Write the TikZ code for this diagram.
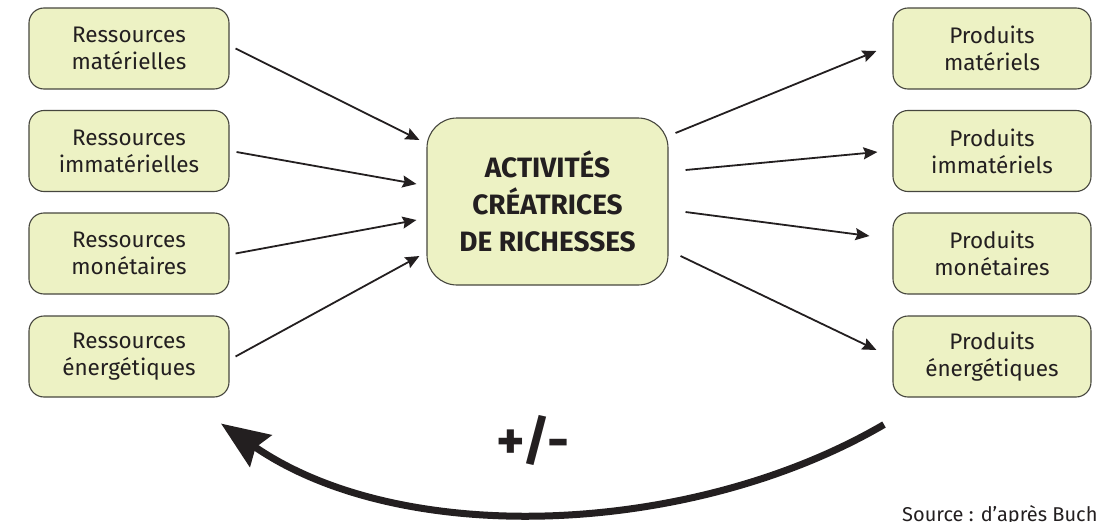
\documentclass[tikz,border=0pt]{standalone}
\usepackage{fontspec}
\setmainfont{Fira Sans}
\usetikzlibrary{arrows.meta,calc}
\definecolor{boxfill}{RGB}{237,242,196}
\definecolor{ink}{RGB}{35,31,32}
\definecolor{boxline}{RGB}{70,70,62}
\begin{document}
\begin{tikzpicture}[x=1pt,y=-1pt,
  smallbox/.style={draw=boxline, line width=1.1pt, fill=boxfill, rounded corners=15pt,
    minimum width=200pt, minimum height=81pt, inner sep=0pt, align=center, text=ink,
    font=\fontsize{22.5}{27}\selectfont},
  bigbox/.style={draw=boxline, line width=1.1pt, fill=boxfill, rounded corners=30pt,
    minimum width=241pt, minimum height=167pt, inner sep=0pt, align=center, text=ink,
    font=\bfseries\fontsize{28}{37}\selectfont},
  flow/.style={draw=ink, line width=1.8pt, -{Stealth[length=14pt,width=12pt,inset=2pt]}},
  loopback/.style={draw=ink, line width=7pt, -{Stealth[length=48pt,width=38pt,inset=6pt]}}
]
\useasboundingbox (0,0) rectangle (1096,522);

% left column
\node[smallbox] (L1) at (129,48.5) {Ressources\\matérielles};
\node[smallbox] (L2) at (129,151) {Ressources\\immatérielles};
\node[smallbox] (L3) at (129,253.5) {Ressources\\monétaires};
\node[smallbox] (L4) at (129,356.5) {Ressources\\énergétiques};

% centre
\node[bigbox] (C) at (547.5,201.5) {ACTIVITÉS\\CRÉATRICES\\DE RICHESSES};

% right column
\node[smallbox, minimum width=198pt] (R1) at (992,48.5) {Produits\\matériels};
\node[smallbox, minimum width=198pt] (R2) at (992,151) {Produits\\immatériels};
\node[smallbox, minimum width=198pt] (R3) at (992,253.5) {Produits\\monétaires};
\node[smallbox, minimum width=198pt] (R4) at (992,356.5) {Produits\\énergétiques};

% inputs
\draw[flow] ([xshift=6pt]L1.east) -- ([xshift=-7pt,yshift=61.5pt]C.west);
\draw[flow] ([xshift=7pt,yshift=-1pt]L2.east) -- ([xshift=-10pt,yshift=17.5pt]C.west);
\draw[flow] ([xshift=6pt]L3.east) -- ([xshift=-10pt,yshift=-18.5pt]C.west);
\draw[flow] ([xshift=6pt]L4.east) -- ([xshift=-7pt,yshift=-54.5pt]C.west);

% outputs
\draw[flow] ([xshift=7pt,yshift=68.5pt]C.east) -- ([xshift=-16pt,yshift=-2.5pt]R1.west);
\draw[flow] ([xshift=17pt,yshift=31.5pt]C.east) -- ([xshift=-15pt,yshift=-1pt]R2.west);
\draw[flow] ([xshift=17pt,yshift=-10.5pt]C.east) -- ([xshift=-23pt,yshift=17.5pt]R3.west);
\draw[flow] ([xshift=12pt,yshift=-54.5pt]C.east) -- ([xshift=-16pt,yshift=6.5pt]R4.west);

% feedback loop
\coordinate (ls) at ([xshift=-108pt,yshift=-27pt]R4.south);
\coordinate (le) at ([xshift=92pt,yshift=-26pt]L4.south);
\draw[loopback] (ls) .. controls (693,536) and (403,549) .. (le);
\node[font=\bfseries\fontsize{54}{54}\selectfont, text=ink] (pm) at (533,440) {+/-};

% source
\node[anchor=base west, inner sep=0pt, font=\fontsize{20}{20}\selectfont, text=ink] (src) at (902,521) {Source : d’après Buch};
\end{tikzpicture}
\end{document}
